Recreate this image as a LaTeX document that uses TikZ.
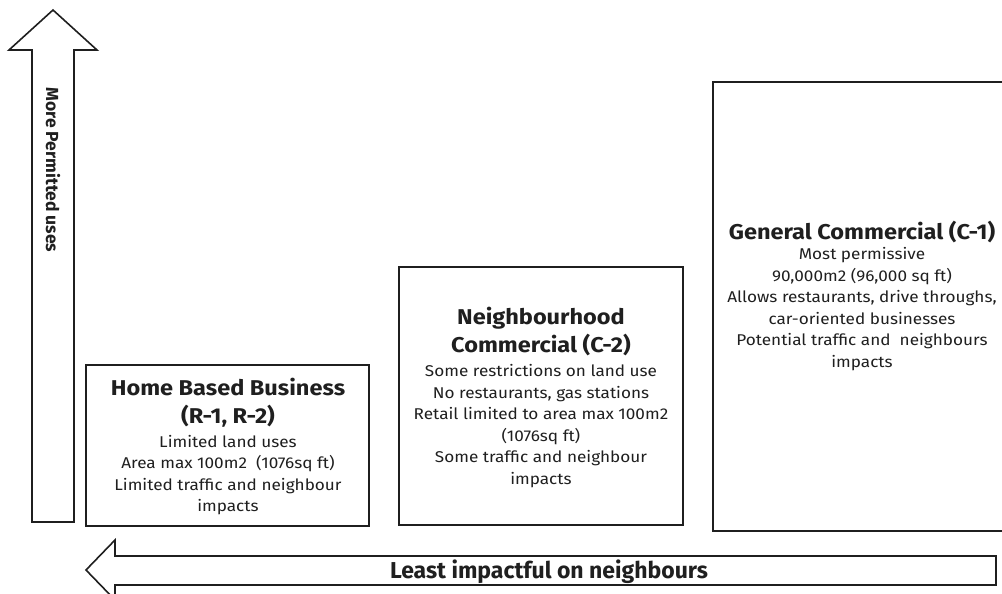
\documentclass[tikz,border=0pt]{standalone}
\usepackage{fontspec}
\setmainfont{Fira Sans}
\newfontfamily\widefont[FakeStretch=1.1]{Fira Sans}
\begin{document}
\begin{tikzpicture}[x=1pt,y=-1pt,
  outline/.style={draw=black!88,line width=1.6pt,line join=miter},
  zonebox/.style={outline,fill=white,inner sep=0pt},
  ttl/.style={font=\widefont\fontsize{21.4}{28}\selectfont\bfseries,text=black!88,align=center,inner sep=0pt},
  body/.style={font=\widefont\fontsize{15.6}{21.5}\selectfont,text=black!88,align=center,inner sep=0pt},
  lab/.style={font=\fontsize{17.5}{20}\selectfont\bfseries,text=black!88,inner sep=0pt}]
\useasboundingbox (0,0) rectangle (1002,594);
\clip (0,0) rectangle (1002,594);
% up arrow
\draw[outline] (32,522) -- (32,50) -- (9,50) -- (53,10) -- (97,50) -- (74,50) -- (74,522) -- cycle;
\node[lab,rotate=-90] (uplab) at (53,170) {More Permitted uses};
% bottom arrow
\draw[outline] (996,556) -- (115,556) -- (115,540) -- (86,570) -- (115,600) -- (115,585) -- (996,585) -- cycle;
\node[lab,font=\fontsize{23}{26}\selectfont\bfseries] (botlab) at (549,572) {Least impactful on neighbours};
% boxes
\node[zonebox,minimum width=283pt,minimum height=161pt] (b1) at (227.5,445.5) {};
\node[zonebox,minimum width=284pt,minimum height=258pt] (b2) at (541,396) {};
\node[zonebox,minimum width=298pt,minimum height=449pt] (b3) at (862,306.5) {};
% box 1 text
\node[ttl] (t1) at (228,403) {Home Based Business\\(R-1, R-2)};
\node[body] (d1) at (228,475) {Limited land uses\\Area max 100m2\ \ (1076sq ft)\\Limited traffic and neighbour\\impacts};
% box 2 text
\node[ttl] (t2) at (541,332) {Neighbourhood\\Commercial (C-2)};
\node[body] (d2) at (541,426) {Some restrictions on land use\\No restaurants, gas stations\\Retail limited to area max 100m2\\(1076sq ft)\\Some traffic and neighbour\\impacts};
% box 3 text
\node[ttl] (t3) at (862,232) {General Commercial (C-1)};
\node[body] (d3) at (862,309) {Most permissive\\90,000m2 (96,000 sq ft)\\Allows restaurants, drive throughs,\\car-oriented businesses\\Potential traffic and\ \ neighbours\\impacts};
\end{tikzpicture}
\end{document}
